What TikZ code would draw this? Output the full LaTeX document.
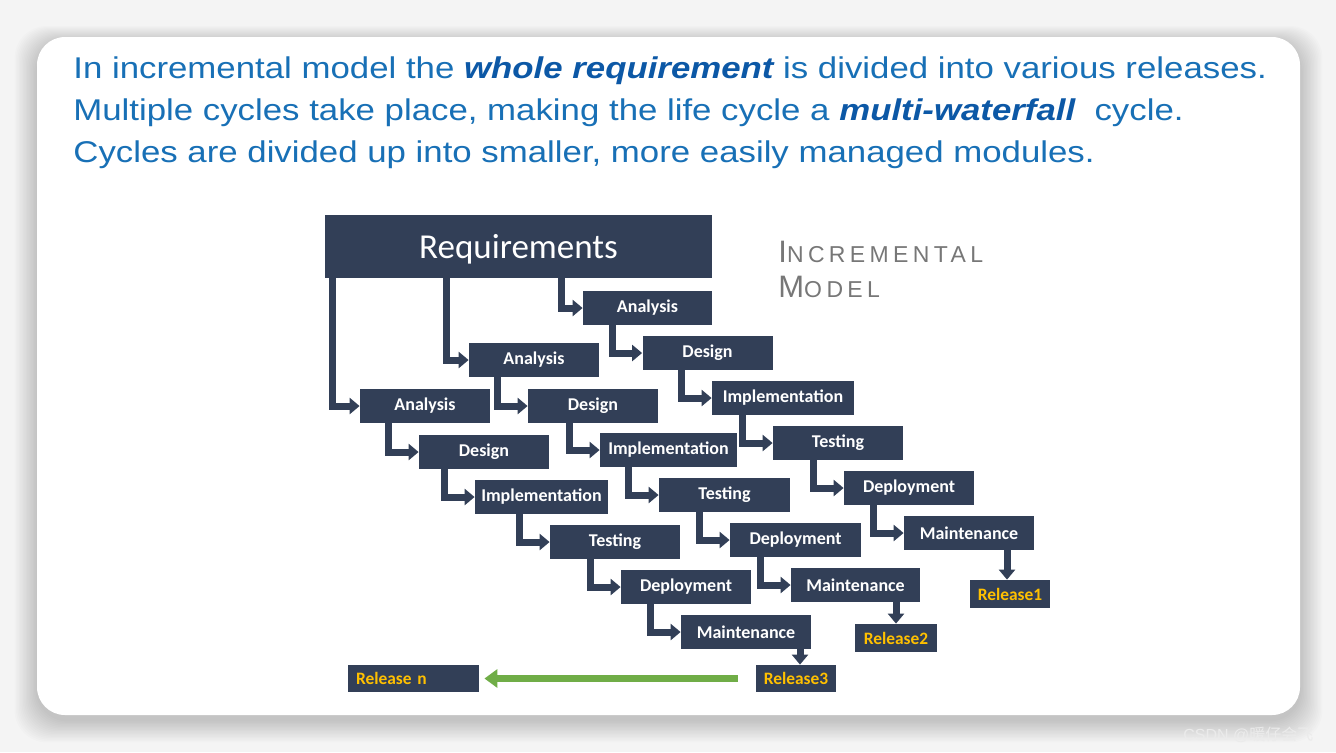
\documentclass[tikz,border=0pt]{standalone}
\usepackage{fontspec}
\setmainfont{Liberation Sans}
\newfontfamily\hdrfont[FakeStretch=1.16]{Liberation Sans}
\newfontfamily\carlito{Carlito}
\newfontfamily\incfont[LetterSpace=19]{Liberation Sans}
\newfontfamily\cjk{Noto Sans CJK SC}
\usetikzlibrary{arrows.meta,calc}
\definecolor{navy}{HTML}{323F57}
\definecolor{hdrblue}{HTML}{1870B6}
\definecolor{hdrbold}{HTML}{0C58A6}
\definecolor{grn}{HTML}{70AD47}
\definecolor{gold}{HTML}{FFC000}
\definecolor{incgray}{HTML}{777777}
\definecolor{outbg}{HTML}{F4F4F4}
\newcommand{\lnk}[3][15pt]{\draw[conn] let \p1=(#3.west), \p2=(#2.south) in (\x1-#1,\y2) |- (#3.west);}
\begin{document}
\begin{tikzpicture}[x=0.5pt,y=-0.5pt,
  box/.style={fill=navy, text=white, font=\carlito\bfseries\fontsize{9}{10}\selectfont, minimum height=17pt, inner sep=0pt},
  rel/.style={fill=navy, text=gold, font=\carlito\bfseries\fontsize{8.7}{10}\selectfont, minimum height=14pt, inner sep=0pt},
  conn/.style={draw=navy, line width=3.5pt, -{Triangle[width=8pt,length=5pt]}},
  garrow/.style={draw=grn, line width=3.5pt, -{Triangle[width=9pt,length=6.5pt]}},
  hdr/.style={anchor=base west, inner sep=0pt, text=hdrblue, font=\hdrfont\fontsize{15}{18}\selectfont}
]
\useasboundingbox (0,0) rectangle (1336,752);
\fill[outbg] (0,0) rectangle (1336,752);
\foreach \i in {1,...,16}{
  \fill[black, opacity=0.012, rounded corners=16pt] (37-\i*1.4,37-\i*1.0+5) rectangle (1300+\i*1.4,715+\i*1.4+5);
}
\fill[white, rounded corners=14pt] (37,37) rectangle (1300,715);

% header text
\node[hdr] (l1) at (73,78) {In incremental model the \textcolor{hdrbold}{\bfseries\itshape whole requirement} is divided into various releases.};
\node[hdr] (l2) at (73,120) {Multiple cycles take place, making the life cycle a \textcolor{hdrbold}{\bfseries\itshape multi-waterfall}\ \ cycle.};
\node[hdr] (l3) at (73,162) {Cycles are divided up into smaller, more easily managed modules.};

% title
\node[anchor=base west, inner sep=0pt, text=incgray, font=\incfont] (t1) at (778,262) {\fontsize{15.5}{15}\selectfont I\fontsize{11.5}{11}\selectfont NCREMENTAL};
\node[anchor=base west, inner sep=0pt, text=incgray, font=\incfont] (t2) at (778,297) {\fontsize{15.5}{15}\selectfont M\fontsize{11.5}{11}\selectfont ODEL};

% requirements
\node[fill=navy, text=white, font=\carlito\fontsize{17.5}{20}\selectfont, minimum width=193.5pt, minimum height=31.5pt, inner sep=0pt, text height=14pt, text depth=2pt] (req) at (518.5,246.5) {Requirements};

% cycle 3 (right)
\node[box, minimum width=64.5pt] (a3) at (647.5,308) {Analysis};
\node[box, minimum width=65pt] (d3) at (707.5,353) {Design};
\node[box, minimum width=71pt] (i3) at (783,398) {Implementation};
\node[box, minimum width=65pt] (t3) at (838,443) {Testing};
\node[box, minimum width=65pt] (p3) at (909,488) {Deployment};
\node[box, minimum width=65pt] (m3) at (969,533) {Maintenance};
\node[rel, minimum width=40pt] (r1) at (1010,594) {Release1};

% cycle 2
\node[box, minimum width=65pt] (a2) at (534,360) {Analysis};
\node[box, minimum width=65pt] (d2) at (593,406) {Design};
\node[box, minimum width=68.5pt] (i2) at (668.5,450) {Implementation};
\node[box, minimum width=65.5pt] (t2b) at (724.5,495) {Testing};
\node[box, minimum width=65.5pt] (p2) at (795.5,540) {Deployment};
\node[box, minimum width=64.5pt] (m2) at (855.5,585) {Maintenance};
\node[rel, minimum width=41pt] (r2) at (896,638) {Release2};

% cycle 1
\node[box, minimum width=65pt] (a1) at (425,406) {Analysis};
\node[box, minimum width=65pt] (d1) at (484,452) {Design};
\node[box, minimum width=66.5pt] (i1) at (541.5,497) {Implementation};
\node[box, minimum width=65pt] (t1b) at (615,542) {Testing};
\node[box, minimum width=65pt] (p1) at (686,587) {Deployment};
\node[box, minimum width=65pt] (m1) at (746,632) {Maintenance};
\node[rel, minimum width=40pt, minimum height=13.5pt] (r3) at (796,678.5) {Release3};
\node[rel, text width=57.5pt, align=left, inner xsep=4pt, minimum height=13.5pt] (rn) at (413.5,678.5) {Release n};

% connectors from requirements
\lnk[13.5pt]{req}{a1}
\lnk[11pt]{req}{a2}
\lnk[10.5pt]{req}{a3}

% cycle connectors
\lnk{a3}{d3}\lnk{d3}{i3}\lnk{i3}{t3}\lnk{t3}{p3}\lnk{p3}{m3}
\lnk{a2}{d2}\lnk{d2}{i2}\lnk{i2}{t2b}\lnk{t2b}{p2}\lnk{p2}{m2}
\lnk{a1}{d1}\lnk{d1}{i1}\lnk{i1}{t1b}\lnk{t1b}{p1}\lnk{p1}{m1}

% release arrows
\draw[conn] ([xshift=-1.5pt]r1.north |- m3.south) -- ([xshift=-1.5pt]r1.north);
\draw[conn] (r2.north |- m2.south) -- (r2.north);
\draw[conn] ([xshift=2pt]r3.north |- m1.south) -- ([xshift=2pt]r3.north);

% green arrow
\draw[garrow] ([xshift=-9pt]r3.west) -- ([xshift=2.5pt]rn.east);

% watermark
\node[anchor=base west, inner sep=0pt, text=white!92!black, font=\fontsize{8}{9}\selectfont] (wm) at (1183,740) {CSDN @{\cjk 暖仔会飞}};
\end{tikzpicture}
\end{document}
